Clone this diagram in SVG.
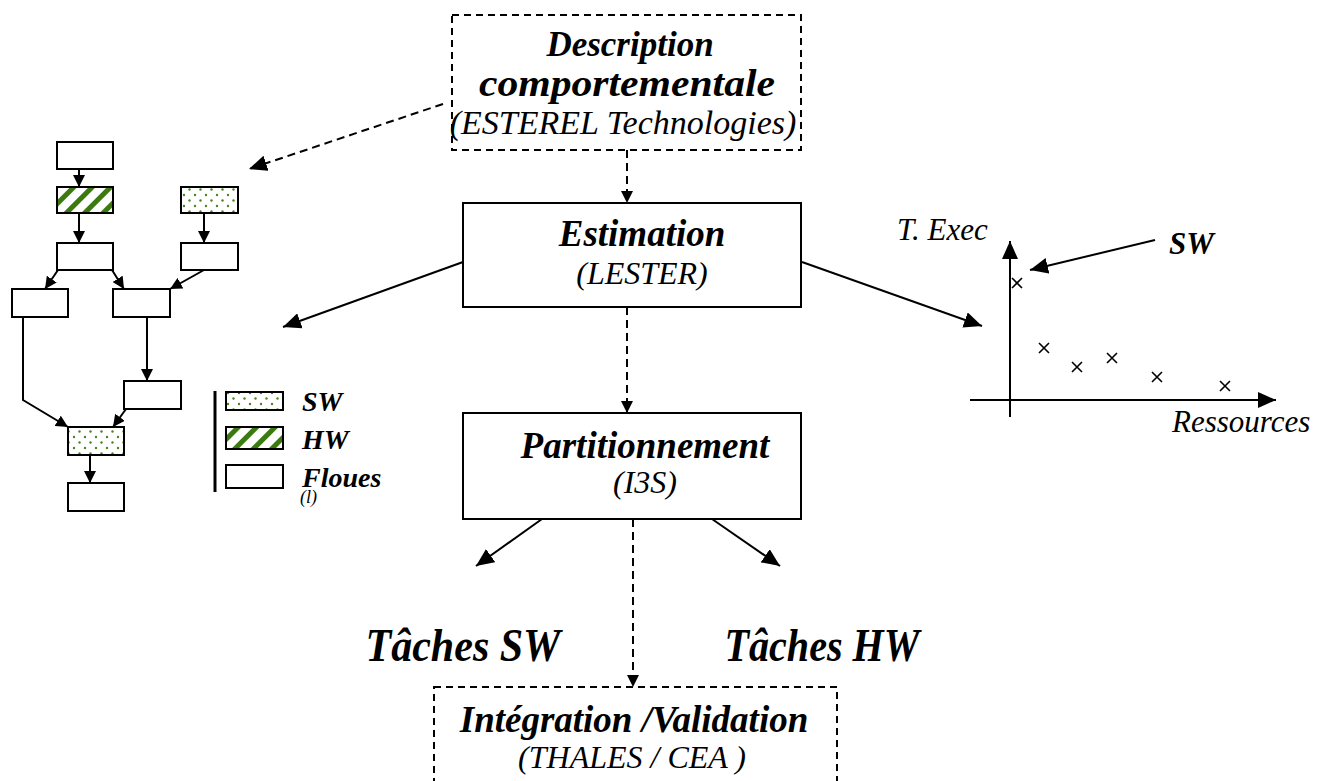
<svg xmlns="http://www.w3.org/2000/svg" width="1325" height="781" viewBox="0 0 1325 781">
  <style>
    .box { fill: #fff; stroke: #000; stroke-width: 2; }
    .dbox { fill: none; stroke: #000; stroke-width: 2; stroke-dasharray: 7 5; }
    .fbox { stroke: #000; stroke-width: 2; }
    .ln { fill: none; stroke: #000; stroke-width: 2; }
    .dl { fill: none; stroke: #000; stroke-width: 2; stroke-dasharray: 8 5; }
    .bi { font-family: "Liberation Serif", "Times New Roman", serif; font-weight: bold; font-style: italic; fill: #000; }
    .it { font-family: "Liberation Serif", "Times New Roman", serif; font-style: italic; fill: #000; }
  </style>
  <defs>
    <marker id="ah" markerUnits="userSpaceOnUse" markerWidth="20" markerHeight="16" refX="18" refY="8" orient="auto">
      <path d="M0,0 L18,8 L0,16 z" fill="#000"/>
    </marker>
    <marker id="ahs" markerUnits="userSpaceOnUse" markerWidth="14" markerHeight="12" refX="12" refY="6" orient="auto">
      <path d="M0,0 L12,6 L0,12 z" fill="#000"/>
    </marker>
    <pattern id="dots" width="11" height="11" patternUnits="userSpaceOnUse">
      <rect width="11" height="11" fill="#fff"/>
      <circle cx="2.5" cy="2.5" r="1.2" fill="#4a8420"/>
      <circle cx="8" cy="8" r="1.2" fill="#4a8420"/>
    </pattern>
    <pattern id="hatch" width="13" height="13" patternUnits="userSpaceOnUse" patternTransform="rotate(45)">
      <rect width="13" height="13" fill="#fff"/>
      <rect width="5" height="13" fill="#3a7a0e"/>
    </pattern>
  </defs>

  <!-- main flow nodes -->
  <g id="description">
    <rect class="dbox" x="452" y="15" width="349" height="135"/>
    <text class="bi" x="630" y="56" font-size="35" text-anchor="middle">Description</text>
    <text class="bi" x="627" y="96" font-size="37" text-anchor="middle" textLength="296" lengthAdjust="spacingAndGlyphs">comportementale</text>
    <text class="it" x="623" y="134" font-size="34" text-anchor="middle">(ESTEREL Technologies)</text>
  </g>

  <g id="estimation">
    <rect class="box" x="463" y="203" width="338" height="104"/>
    <text class="bi" x="642" y="246" font-size="37" text-anchor="middle">Estimation</text>
    <text class="it" x="642" y="284" font-size="32" text-anchor="middle">(LESTER)</text>
  </g>

  <g id="partitionnement">
    <rect class="box" x="463" y="413" width="338" height="106"/>
    <text class="bi" x="645" y="458" font-size="37" text-anchor="middle">Partitionnement</text>
    <text class="it" x="645" y="493" font-size="32" text-anchor="middle">(I3S)</text>
  </g>

  <g id="taches-sw">
    <text class="bi" x="463" y="661" font-size="47" text-anchor="middle" textLength="195" lengthAdjust="spacingAndGlyphs">Tâches SW</text>
  </g>
  <g id="taches-hw">
    <text class="bi" x="822" y="661" font-size="47" text-anchor="middle" textLength="195" lengthAdjust="spacingAndGlyphs">Tâches HW</text>
  </g>

  <g id="integration">
    <rect class="dbox" x="434" y="687" width="403" height="120"/>
    <text class="bi" x="634" y="732" font-size="37" text-anchor="middle">Intégration /Validation</text>
    <text class="it" x="632" y="768" font-size="32" text-anchor="middle">(THALES / CEA )</text>
  </g>

  <!-- task graph on the left -->
  <g id="task-graph">
    <rect class="fbox" x="57" y="142" width="56" height="27" fill="#fff"/>
    <rect class="fbox" x="57" y="187" width="56" height="26" fill="url(#hatch)"/>
    <rect class="fbox" x="57" y="243" width="56" height="27" fill="#fff"/>
    <rect class="fbox" x="181" y="187" width="57" height="26" fill="url(#dots)"/>
    <rect class="fbox" x="181" y="243" width="57" height="27" fill="#fff"/>
    <rect class="fbox" x="12" y="289" width="56" height="28" fill="#fff"/>
    <rect class="fbox" x="113" y="289" width="57" height="28" fill="#fff"/>
    <rect class="fbox" x="124" y="381" width="57" height="28" fill="#fff"/>
    <rect class="fbox" x="68" y="427" width="56" height="28" fill="url(#dots)"/>
    <rect class="fbox" x="68" y="483" width="56" height="28" fill="#fff"/>
  </g>

  <g id="task-graph-edges">
    <line class="ln" x1="79" y1="169" x2="79" y2="187" marker-end="url(#ahs)"/>
    <line class="ln" x1="79" y1="213" x2="79" y2="243" marker-end="url(#ahs)"/>
    <line class="ln" x1="204" y1="213" x2="204" y2="243" marker-end="url(#ahs)"/>
    <line class="ln" x1="58" y1="270" x2="45" y2="289" marker-end="url(#ahs)"/>
    <line class="ln" x1="112" y1="270" x2="124" y2="289" marker-end="url(#ahs)"/>
    <line class="ln" x1="204" y1="270" x2="170" y2="289" marker-end="url(#ahs)"/>
    <polyline class="ln" points="23,317 23,400 68,427" marker-end="url(#ahs)"/>
    <line class="ln" x1="147" y1="317" x2="147" y2="381" marker-end="url(#ahs)"/>
    <line class="ln" x1="126" y1="409" x2="113" y2="427" marker-end="url(#ahs)"/>
    <line class="ln" x1="90" y1="455" x2="90" y2="483" marker-end="url(#ahs)"/>
  </g>

  <!-- legend -->
  <g id="legend">
    <line x1="215" y1="391" x2="215" y2="492" stroke="#000" stroke-width="3"/>
    <rect class="fbox" x="226" y="392" width="57" height="18" fill="url(#dots)"/>
    <rect class="fbox" x="226" y="427" width="57" height="22" fill="url(#hatch)"/>
    <rect class="fbox" x="226" y="465" width="57" height="23" fill="#fff"/>
    <text class="bi" x="302" y="411" font-size="28">SW</text>
    <text class="bi" x="302" y="449" font-size="28">HW</text>
    <text class="bi" x="302" y="487" font-size="28">Floues</text>
    <text class="it" x="300" y="503" font-size="18">(l)</text>
  </g>

  <!-- execution time / resources chart -->
  <g id="chart">
    <line class="ln" x1="1010" y1="417" x2="1010" y2="241" marker-end="url(#ah)"/>
    <line class="ln" x1="970" y1="400" x2="1276" y2="400" marker-end="url(#ah)"/>
    <g stroke="#000" stroke-width="1.6">
      <path d="M1012,278 l10,10 M1022,278 l-10,10"/>
      <path d="M1039,343 l10,10 M1049,343 l-10,10"/>
      <path d="M1072,362 l10,10 M1082,362 l-10,10"/>
      <path d="M1107,353 l10,10 M1117,353 l-10,10"/>
      <path d="M1152,372 l10,10 M1162,372 l-10,10"/>
      <path d="M1220,381 l10,10 M1230,381 l-10,10"/>
    </g>
    <line class="ln" x1="1155" y1="240" x2="1030" y2="270" marker-end="url(#ah)"/>
    <text class="bi" x="1169" y="254" font-size="31">SW</text>
    <text class="it" x="897" y="240" font-size="31">T. Exec</text>
    <text class="it" x="1172" y="432" font-size="31">Ressources</text>
  </g>

  <!-- connectors between steps -->
  <g id="connectors">
    <line class="dl" x1="443" y1="104" x2="249" y2="169" stroke-dasharray="11 6" marker-end="url(#ah)"/>
    <line class="dl" x1="627" y1="150" x2="627" y2="203" marker-end="url(#ahs)"/>
    <line class="dl" x1="627" y1="307" x2="627" y2="413" marker-end="url(#ahs)"/>
    <line class="ln" x1="463" y1="262" x2="283" y2="327" marker-end="url(#ah)"/>
    <line class="ln" x1="802" y1="262" x2="982" y2="326" marker-end="url(#ah)"/>
    <line class="ln" x1="542" y1="519" x2="476" y2="566" marker-end="url(#ah)"/>
    <line class="ln" x1="712" y1="519" x2="780" y2="566" marker-end="url(#ah)"/>
    <line class="dl" x1="633" y1="519" x2="633" y2="687" marker-end="url(#ahs)"/>
  </g>
</svg>
